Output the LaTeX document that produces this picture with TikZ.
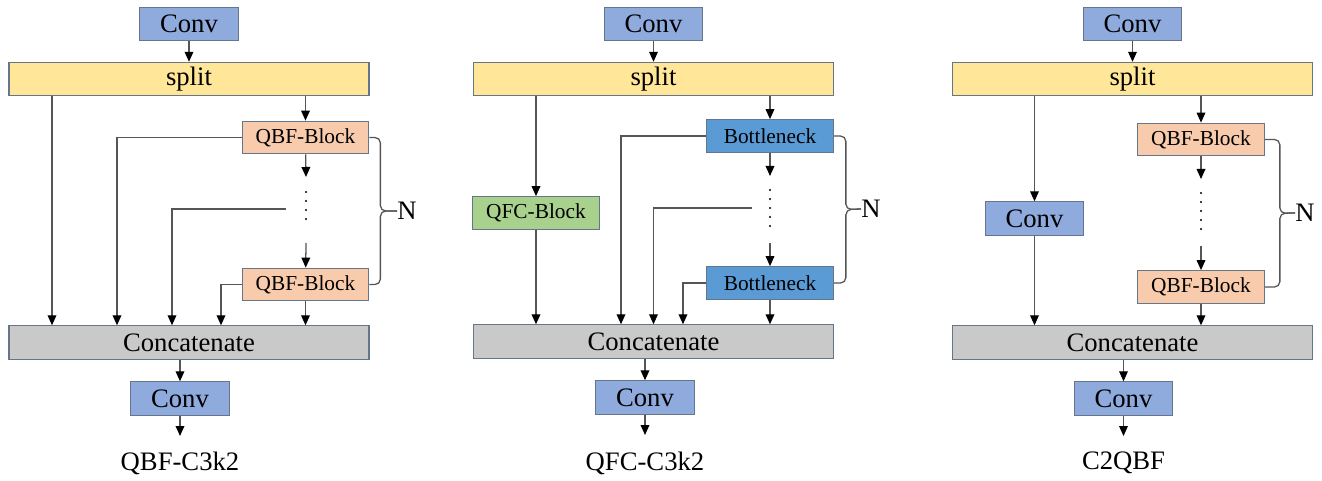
\documentclass[tikz,border=0pt]{standalone}
\usepackage{fontspec}
\setmainfont{Liberation Serif}
\usepackage{tikz}
\usetikzlibrary{arrows.meta,positioning,calc}
\definecolor{edge}{HTML}{667589}
\definecolor{wire}{HTML}{555555}
\definecolor{convblue}{HTML}{8FAADC}
\definecolor{splityel}{HTML}{FFE699}
\definecolor{catgray}{HTML}{C9C9C9}
\definecolor{qbfpink}{HTML}{F8CBAD}
\definecolor{bnblue}{HTML}{5B9BD5}
\definecolor{qfcgreen}{HTML}{A9D18E}

\begin{document}
\begin{tikzpicture}[x=0.75pt,y=-0.75pt,
  blk/.style={draw=edge,line width=0.8pt,inner sep=0pt,minimum height=25pt,font=\fontsize{20}{24}\selectfont},
  conv/.style={blk,fill=convblue,minimum width=74pt},
  wide/.style={blk,fill=splityel,minimum width=270pt},
  cat/.style={wide,fill=catgray},
  qbf/.style={blk,fill=qbfpink,minimum width=95pt,minimum height=24.5pt,font=\fontsize{16}{19}\selectfont},
  bneck/.style={qbf,fill=bnblue},
  qfc/.style={qbf,fill=qfcgreen},
  lab/.style={font=\fontsize{20}{24}\selectfont,inner sep=0pt},
  arr/.style={-{Triangle[length=7.5pt,width=6.5pt,color=black]},line width=0.95pt,color=wire},
  ln/.style={line width=0.95pt,color=wire},
  brc/.style={ln,rounded corners=4pt},
  dotl/.style={line width=1.6pt,dash pattern=on 0pt off 6.75pt,line cap=round}]
\useasboundingbox (0,0) rectangle (1322,481);
% ---- QBF-C3k2
\node[conv] (conv1a) at (189,24) {Conv};
\node[wide] (spl1) at (189,79) {split};
\node[qbf] (q1a) at (305.5,137.5) {QBF-Block};
\node[qbf] (q1b) at (305.5,284.5) {QBF-Block};
\node[cat] (cat1) at (189,342.5) {Concatenate};
\node[conv] (conv1b) at (180,398.5) {Conv};
\node[lab] (lbl1) at (180,463) {QBF-C3k2};
\node[lab,anchor=west] (n1) at (397,211) {N};
\coordinate (d1) at (306,177);
\coordinate (s1) at (286,209);
\coordinate (u1) at (306,243);
\coordinate (o1) at (180,436);
\coordinate (m1) at ($(q1a.east)!0.5!(q1b.east)+(11,0)$);
\draw[arr] (conv1a) -- (spl1);
\draw[arr] ($(spl1.south)+(-137,0)$) -- ($(cat1.north)+(-137,0)$);
\draw[arr] (spl1.south -| q1a) -- (q1a);
\draw[arr] (q1a.west) -| ($(cat1.north)+(-72,0)$);
\draw[arr] (q1a) -- (d1);
\draw[dotl] (306,192) -- (306,228);
\draw[arr] (s1) -| ($(cat1.north)+(-17,0)$);
\draw[arr] (u1) -- (q1b);
\draw[arr] (q1b.west) -| ($(cat1.north)+(32,0)$);
\draw[arr] (q1b) -- (q1b.south |- cat1.north);
\draw[brc] (q1a.east) -| (m1) -- (n1.west);
\draw[brc] (q1b.east) -| (m1) -- (n1.west);
\draw[arr] (cat1.south -| conv1b) -- (conv1b);
\draw[arr] (conv1b) -- (o1);
% ---- QFC-C3k2
\node[conv] (conv2a) at (653.5,24) {Conv};
\node[wide] (spl2) at (653.5,79) {split};
\node[qfc] (qfc2) at (536,213) {QFC-Block};
\node[bneck] (bn2a) at (770,136) {Bottleneck};
\node[bneck] (bn2b) at (770,283) {Bottleneck};
\node[cat] (cat2) at (653.5,341.5) {Concatenate};
\node[conv] (conv2b) at (645,397.5) {Conv};
\node[lab] (lbl2) at (645,463) {QFC-C3k2};
\node[lab,anchor=west] (n2) at (861,209) {N};
\coordinate (d2) at (770,176);
\coordinate (s2) at (752,208);
\coordinate (u2) at (770,243);
\coordinate (o2) at (645,435);
\coordinate (m2) at ($(bn2a.east)!0.5!(bn2b.east)+(12,0)$);
\draw[arr] (conv2a) -- (spl2);
\draw[arr] (spl2.south -| qfc2) -- (qfc2);
\draw[arr] (qfc2) -- (qfc2.south |- cat2.north);
\draw[arr] (spl2.south -| bn2a) -- (bn2a);
\draw[arr] (bn2a.west) -| ($(cat2.north)+(-32.5,0)$);
\draw[arr] (bn2a) -- (d2);
\draw[dotl] (770,190) -- (770,227);
\draw[arr] (s2) -| (cat2.north);
\draw[arr] (u2) -- (bn2b);
\draw[arr] (bn2b.west) -| ($(cat2.north)+(29.5,0)$);
\draw[arr] (bn2b) -- (bn2b.south |- cat2.north);
\draw[brc] (bn2a.east) -| (m2) -- (n2.west);
\draw[brc] (bn2b.east) -| (m2) -- (n2.west);
\draw[arr] (cat2.south -| conv2b) -- (conv2b);
\draw[arr] (conv2b) -- (o2);
% ---- C2QBF
\node[conv] (conv3a) at (1132.5,24) {Conv};
\node[wide] (spl3) at (1132.5,79) {split};
\node[conv] (cv3) at (1034.5,218.5) {Conv};
\node[qbf] (q3a) at (1201,139.5) {QBF-Block};
\node[qbf] (q3b) at (1201,287) {QBF-Block};
\node[cat] (cat3) at (1132.5,342.5) {Concatenate};
\node[conv] (conv3b) at (1123.5,398.5) {Conv};
\node[lab] (lbl3) at (1123.5,463) {C2QBF};
\node[lab,anchor=west] (n3) at (1295,213) {N};
\coordinate (d3) at (1201,179);
\coordinate (u3) at (1201,246);
\coordinate (o3) at (1123.5,436);
\coordinate (m3) at ($(q3a.east)!0.5!(q3b.east)+(15,0)$);
\draw[arr] (conv3a) -- (spl3);
\draw[arr] (spl3.south -| cv3) -- (cv3);
\draw[arr] (cv3) -- (cv3.south |- cat3.north);
\draw[arr] (spl3.south -| q3a) -- (q3a);
\draw[arr] (q3a) -- (d3);
\draw[dotl] (1201,193) -- (1201,230);
\draw[arr] (u3) -- (q3b);
\draw[arr] (q3b) -- (q3b.south |- cat3.north);
\draw[brc] (q3a.east) -| (m3) -- (n3.west);
\draw[brc] (q3b.east) -| (m3) -- (n3.west);
\draw[arr] (cat3.south -| conv3b) -- (conv3b);
\draw[arr] (conv3b) -- (o3);
\end{tikzpicture}
\end{document}
